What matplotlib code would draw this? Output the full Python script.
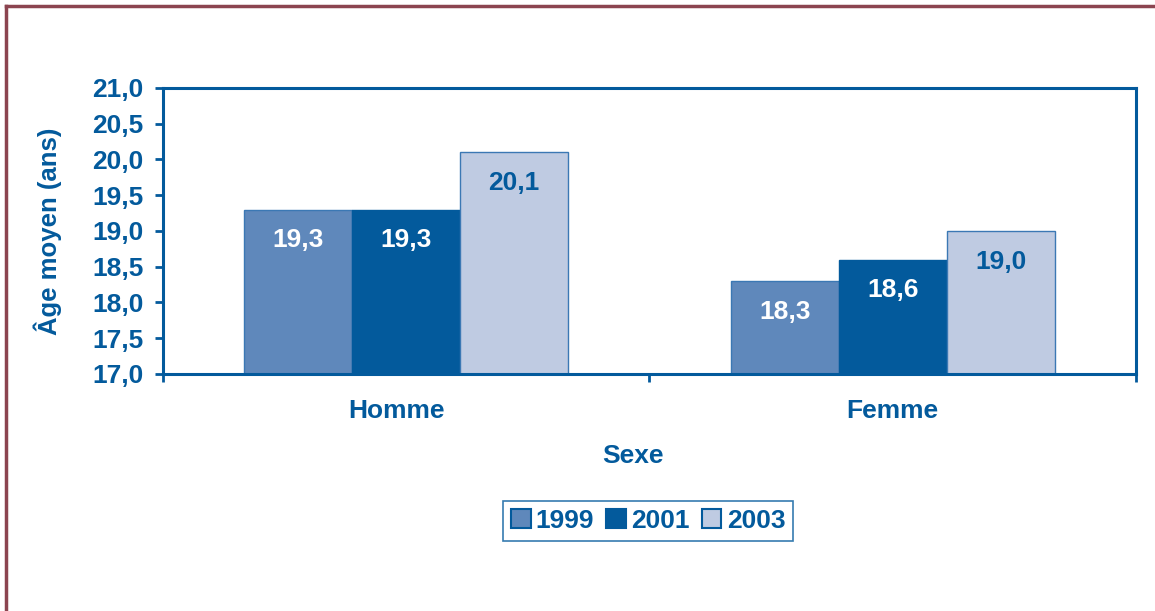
import matplotlib
matplotlib.use("Agg")
import matplotlib.pyplot as plt
import numpy as np
from matplotlib.lines import Line2D
from matplotlib.ticker import FuncFormatter

# données
categories = ["Homme", "Femme"]
years = ["1999", "2001", "2003"]
val_1999 = [19.3, 18.3]
val_2001 = [19.3, 18.6]
val_2003 = [20.1, 19.0]

BLUE = "#035a9c"
colors = ["#5f88bb", "#035a9c", "#bfcbe2"]
label_colors = ["white", "white", BLUE]
FRAME = "#8b4450"

plt.rcParams["font.family"] = ["Liberation Sans", "DejaVu Sans"]
plt.rcParams["font.weight"] = "bold"

fig = plt.figure(figsize=(11.55, 6.11), dpi=100)
fig.patch.set_facecolor("white")
ax = fig.add_axes([0.1411, 0.3879, 0.8424, 0.4681])

x = np.arange(len(categories))
w = 0.222
series = [val_1999, val_2001, val_2003]
for i, vals in enumerate(series):
    pos = x + (i - 1) * w
    bars = ax.bar(pos, np.array(vals) - 17.0, bottom=17.0, width=w,
                  color=colors[i], edgecolor="#3b78b4" if i != 1 else BLUE,
                  linewidth=1.0, label=years[i], zorder=2)
    for b, v in zip(bars, vals):
        ax.annotate(f"{v:.1f}".replace(".", ","),
                    (b.get_x() + b.get_width() / 2, v),
                    xytext=(0, -22), textcoords="offset points",
                    ha="center", va="center", fontsize=19,
                    fontweight="bold", color=label_colors[i], zorder=3)

ax.set_xlim(-0.5, 1.5)
ax.set_ylim(17.0, 21.0)
ax.set_yticks(np.arange(17.0, 21.01, 0.5))
ax.yaxis.set_major_formatter(FuncFormatter(lambda v, p: f"{v:.1f}".replace(".", ",")))
ax.set_xticks([-0.5, 0.5, 1.5])
ax.set_xticklabels([])
ax.tick_params(axis="both", colors=BLUE, width=2, length=6, direction="out")
ax.tick_params(axis="y", labelsize=19, labelcolor=BLUE, pad=8)
for s in ax.spines.values():
    s.set_color(BLUE)
    s.set_linewidth(2.2)

# libellés de catégorie (légèrement décalés comme dans l'original)
cat_shift = [-0.02, 0.0]
for xi, c, dx in zip(x, categories, cat_shift):
    ax.text(xi + dx, -0.13, c, transform=ax.get_xaxis_transform(), ha="center",
            va="center", fontsize=19, fontweight="bold", color=BLUE)

ax.set_ylabel("Âge moyen (ans)", fontsize=18.5, fontweight="bold", color=BLUE, labelpad=22)
fig.text(633 / 1155, 1 - 456 / 611, "Sexe", ha="center", va="center",
         fontsize=19, fontweight="bold", color=BLUE)

handles = [plt.Rectangle((0, 0), 1, 1, facecolor=c, edgecolor=BLUE, linewidth=1.5)
           for c in colors]
leg = fig.legend(handles, years, loc="center", bbox_to_anchor=(648 / 1155, 1 - 521 / 611),
                 ncol=3, frameon=True, fancybox=False, fontsize=19,
                 handlelength=0.75, handleheight=0.75, handletextpad=0.2,
                 columnspacing=0.45, borderpad=0.3, borderaxespad=0.2)
leg.get_frame().set_edgecolor(BLUE)
leg.get_frame().set_linewidth(1.2)
for t in leg.get_texts():
    t.set_color(BLUE)
    t.set_fontweight("bold")

# cadre
fig.add_artist(Line2D([6 / 1155, 1.0], [1 - 6 / 611, 1 - 6 / 611], color=FRAME,
                      linewidth=2.5, transform=fig.transFigure))
fig.add_artist(Line2D([6 / 1155, 6 / 1155], [0.0, 1 - 6 / 611], color=FRAME,
                      linewidth=2.5, transform=fig.transFigure))

fig.savefig("out.png", dpi=100, facecolor="white")
